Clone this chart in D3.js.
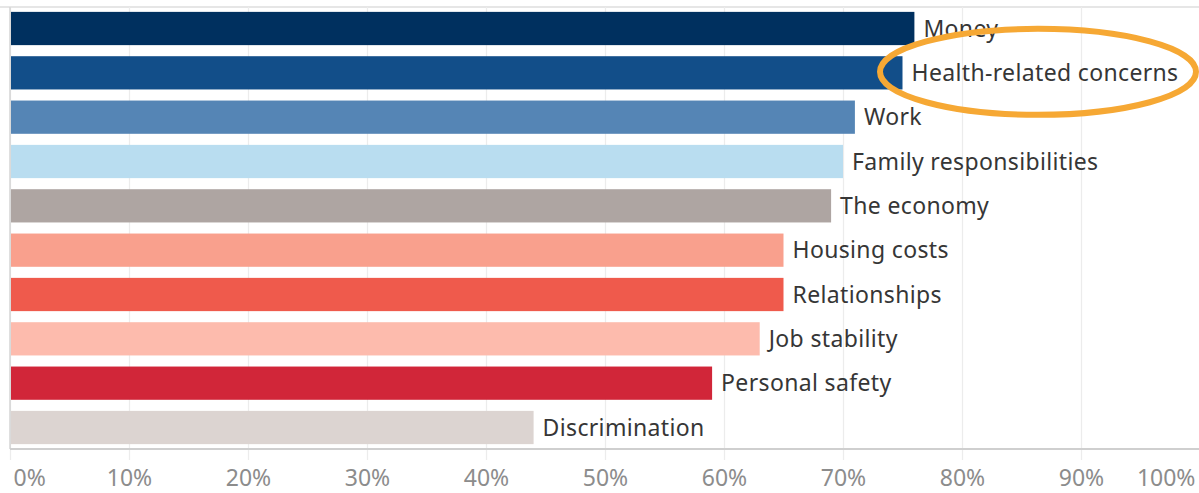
<!DOCTYPE html>
<html>
<head>
<meta charset="utf-8">
<script src="https://cdn.jsdelivr.net/npm/d3@7"></script>
<style>
  html, body { margin: 0; padding: 0; background: #fff; }
  svg { display: block; font-family: "Noto Sans", "Open Sans", sans-serif; }
</style>
</head>
<body>
<div id="chart"></div>
<script>
// ===== DATA =====
const categories = [
  'Money', 'Health-related concerns', 'Work', 'Family responsibilities', 'The economy',
  'Housing costs', 'Relationships', 'Job stability', 'Personal safety', 'Discrimination'
];
const values = [0.76, 0.75, 0.71, 0.70, 0.69, 0.65, 0.65, 0.63, 0.59, 0.44];
const barColors = [
  '#00305f', '#124e89', '#5585b5', '#b9ddf0', '#aea5a2',
  '#f9a08d', '#ef5a4c', '#fdbbad', '#d12639', '#dcd4d1'
];
const tickValues = [0, 0.1, 0.2, 0.3, 0.4, 0.5, 0.6, 0.7, 0.8, 0.9, 1];
const highlighted = 'Health-related concerns';

// ===== LAYOUT =====
const width = 1199;
const height = 493;
const plotTop = 7;
const plotBottom = 449;
const plotLeft = 10;
const plotRight = 1200; // 100% sits right on the cropped edge

const svg = d3.select('#chart')
  .append('svg')
  .attr('width', width)
  .attr('height', height);

const x = d3.scaleLinear().domain([0, 1]).range([plotLeft, plotRight]);
const y = d3.scaleBand()
  .domain(categories)
  .range([plotTop, plotBottom])
  .paddingInner(0.25)
  .paddingOuter(0.11);

// top border
svg.append('line')
  .attr('x1', 0).attr('x2', width)
  .attr('y1', plotTop).attr('y2', plotTop)
  .attr('stroke', '#dedede')
  .attr('stroke-width', 1.5);

// gridlines (run a little below the axis, like tick marks)
const grid = svg.append('g')
  .attr('transform', `translate(0,${plotBottom + 11})`)
  .call(d3.axisBottom(x)
    .tickValues(tickValues)
    .tickSize(-(plotBottom + 11 - plotTop))
    .tickFormat(''));
grid.select('.domain').remove();
grid.selectAll('.tick line')
  .attr('stroke', '#ececec')
  .attr('stroke-width', 1.2);

// left axis line
svg.append('line')
  .attr('x1', plotLeft).attr('x2', plotLeft)
  .attr('y1', plotTop).attr('y2', plotBottom)
  .attr('stroke', '#d4d4d4')
  .attr('stroke-width', 1.5);

// bars
svg.append('g')
  .selectAll('rect')
  .data(categories)
  .join('rect')
  .attr('x', x(0) + 1)
  .attr('y', d => y(d))
  .attr('width', (d, i) => x(values[i]) - x(0) - 1)
  .attr('height', y.bandwidth())
  .attr('fill', (d, i) => barColors[i]);

// bottom axis line
svg.append('line')
  .attr('x1', plotLeft).attr('x2', width)
  .attr('y1', plotBottom).attr('y2', plotBottom)
  .attr('stroke', '#cfcfcf')
  .attr('stroke-width', 2);

// bar labels
svg.append('g')
  .selectAll('text')
  .data(categories)
  .join('text')
  .attr('x', (d, i) => x(values[i]) + 9)
  .attr('y', d => y(d) + y.bandwidth() / 2)
  .attr('dy', '0.36em')
  .attr('font-size', 23)
  .attr('letter-spacing', 0.35)
  .attr('fill', '#363636')
  .text(d => d);

// tick labels
const axis = svg.append('g')
  .attr('transform', `translate(0,${plotBottom})`)
  .call(d3.axisBottom(x)
    .tickValues(tickValues)
    .tickSize(0)
    .tickPadding(21)
    .tickFormat(d3.format('.0%')));
axis.select('.domain').remove();
axis.selectAll('.tick text')
  .attr('font-family', '"Noto Sans", "Open Sans", sans-serif')
  .attr('font-size', 23)
  .attr('fill', '#8c8c8c')
  .attr('text-anchor', d => d === 0 ? 'start' : d === 1 ? 'end' : 'middle')
  .attr('dx', d => d === 0 ? 3 : d === 1 ? -5 : 0);

// orange annotation ring around the highlighted label
const ringY = y(highlighted) + y.bandwidth() / 2;
svg.append('ellipse')
  .attr('cx', 1038)
  .attr('cy', ringY - 1)
  .attr('rx', 158)
  .attr('ry', 43)
  .attr('fill', 'none')
  .attr('stroke', '#f6a834')
  .attr('stroke-width', 6);
</script>
</body>
</html>
